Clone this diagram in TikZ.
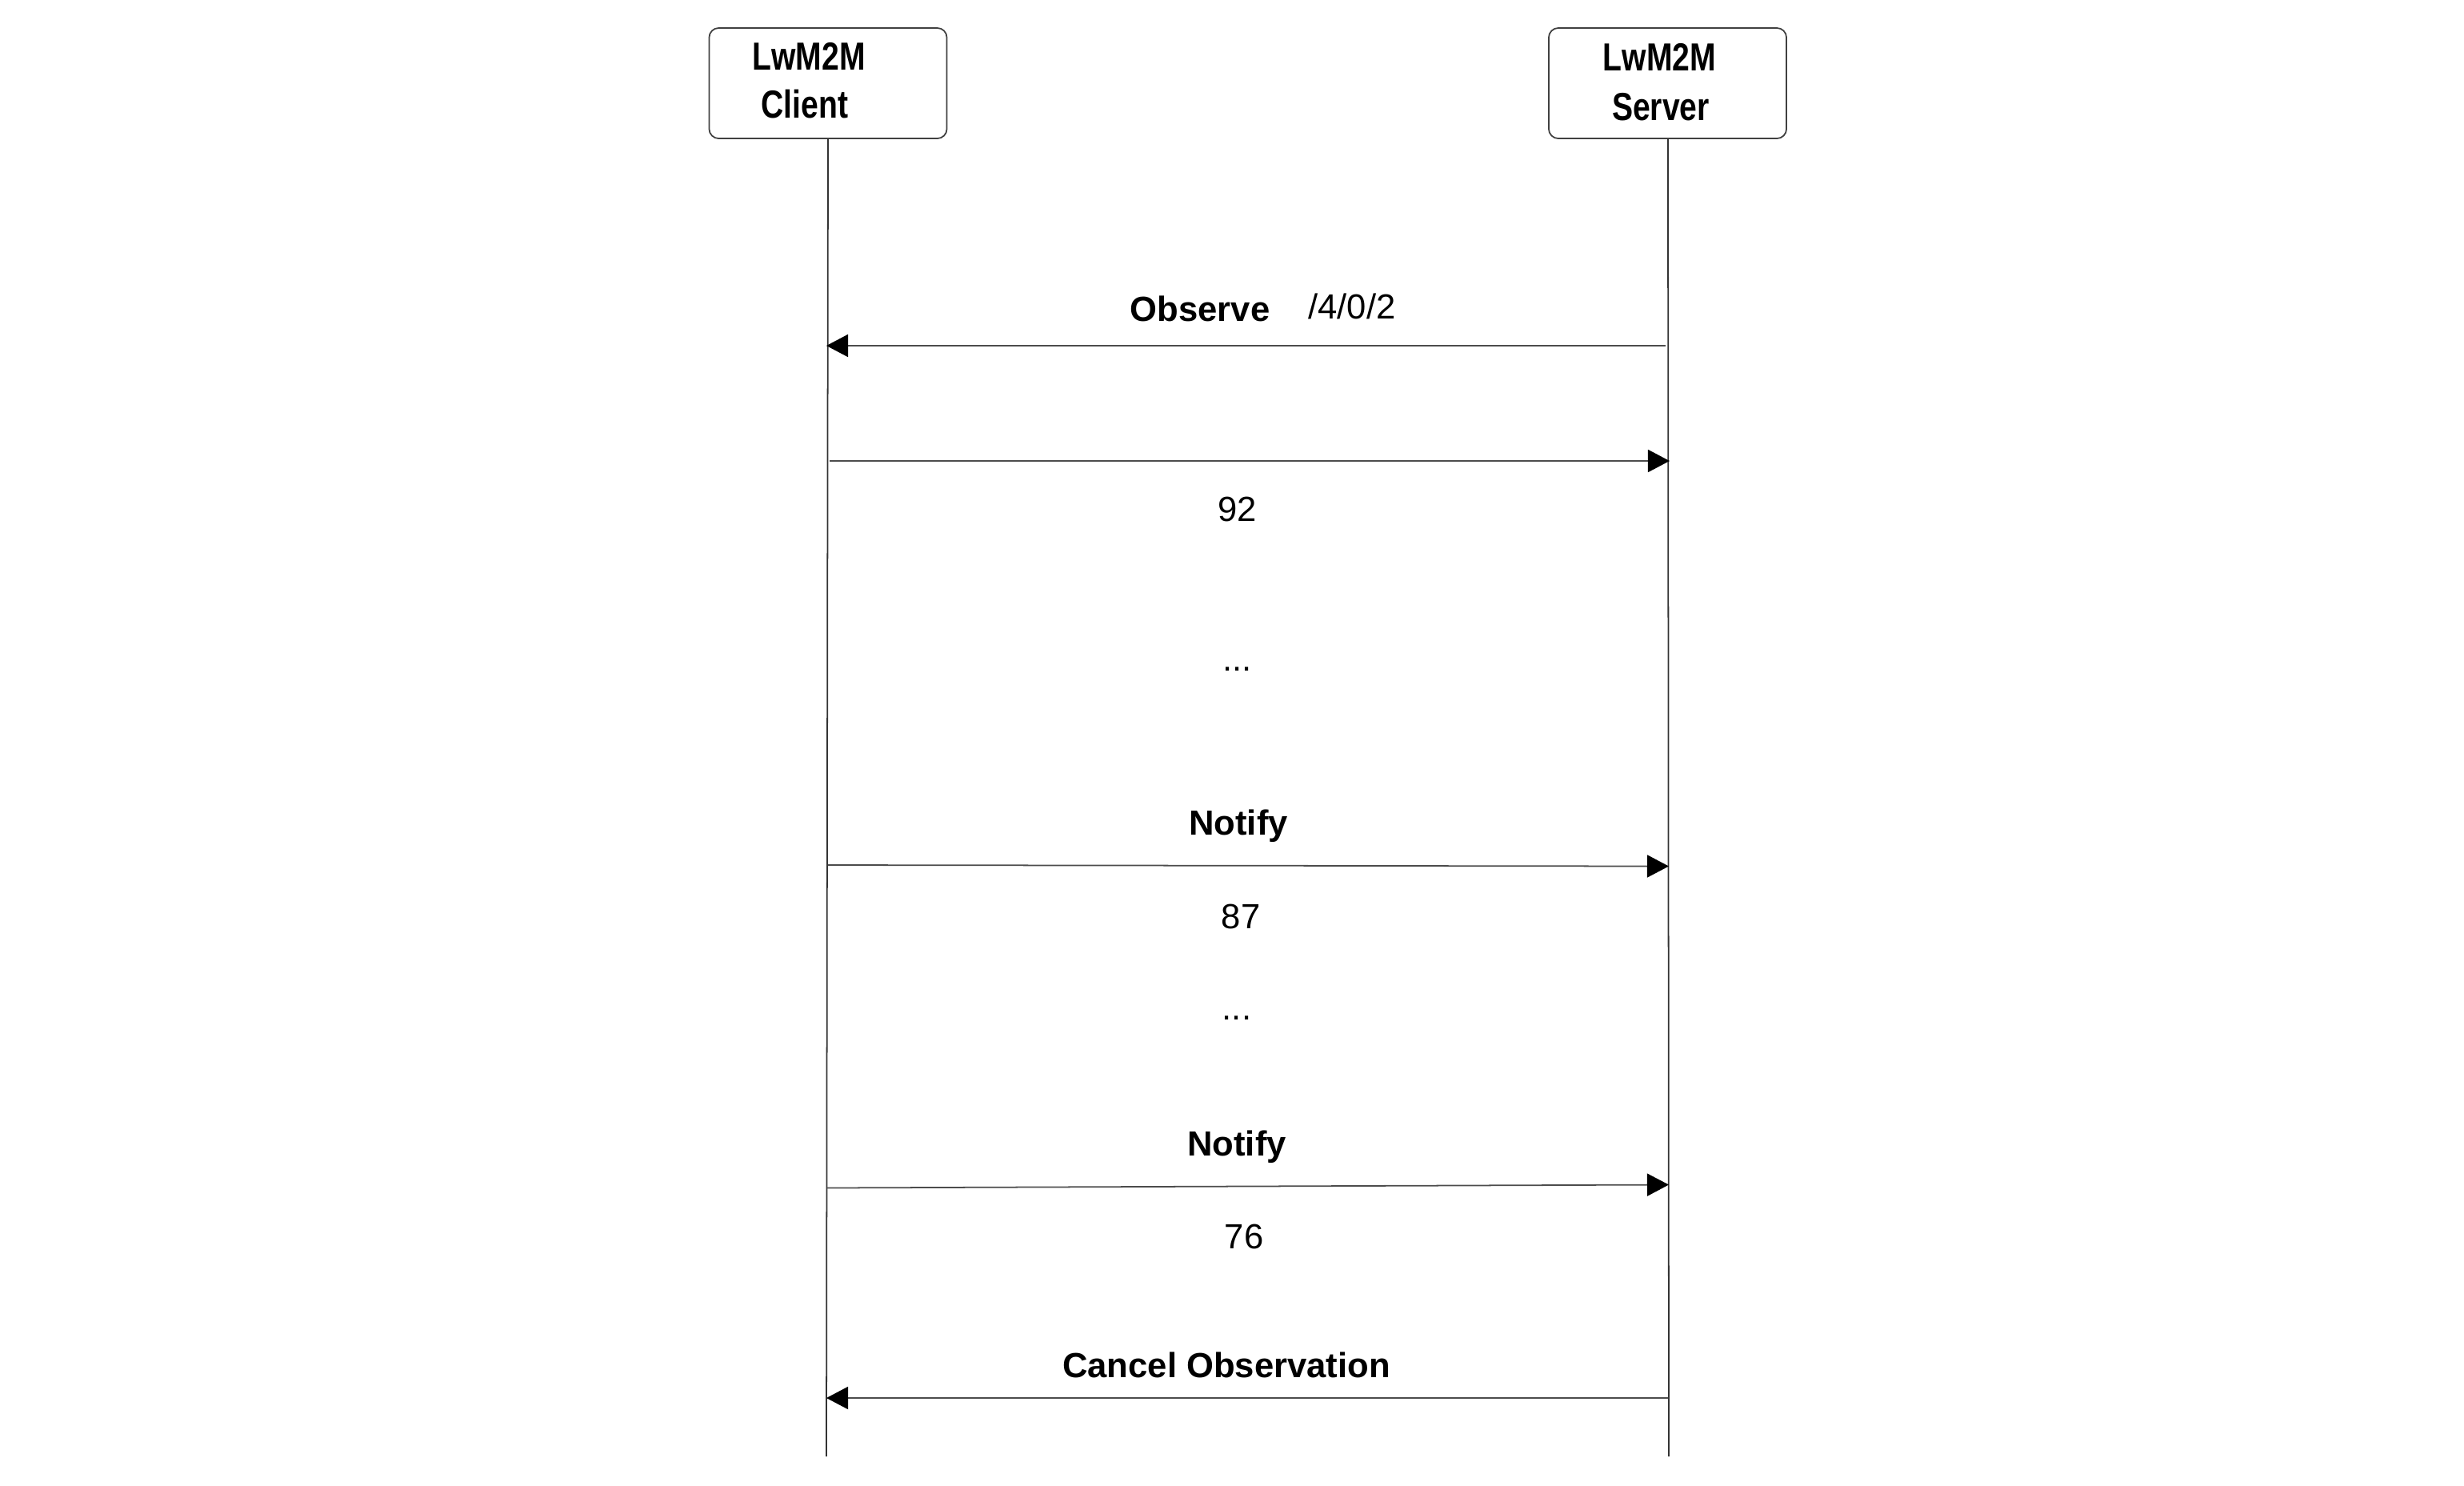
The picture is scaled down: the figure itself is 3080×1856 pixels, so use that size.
\documentclass[tikz,border=0pt]{standalone}
\usepackage{fontspec}
\setmainfont{Liberation Sans}
\usetikzlibrary{arrows.meta}
\begin{document}
\begin{tikzpicture}[x=0.01cm,y=-0.01cm,
  actor/.style={draw=black!75, line width=0.5pt, rounded corners=0.12cm, minimum width=2.97cm, minimum height=1.38cm, inner sep=0pt},
  actorlbl/.style={font=\fontsize{13.9}{16}\selectfont\bfseries, inner sep=0pt, anchor=base},
  life/.style={draw=black!80, line width=0.5pt},
  msg/.style={draw=black!70, line width=0.5pt, -{Triangle[length=0.27cm,width=0.28cm,color=black]}},
  lbl/.style={font=\fontsize{12.4}{15}\selectfont\bfseries, inner sep=0pt, anchor=base},
  val/.style={font=\fontsize{12.4}{15}\selectfont, inner sep=0pt, anchor=base}
]
\fill[white] (0,0) rectangle (3080,1856);
\useasboundingbox (0,0) rectangle (3080,1856);

% actors
\node[actor] (client) at (1035,104) {};
\node[actor] (server) at (2084.5,104) {};
\node[actorlbl] (cl1) at (1011,87) {\scalebox{0.8}[1]{LwM2M}};
\node[actorlbl] (cl2) at (1006,147) {\scalebox{0.8}[1]{Client}};
\node[actorlbl] (sl1) at (2074.5,88) {\scalebox{0.8}[1]{LwM2M}};
\node[actorlbl] (sl2) at (2076,150) {\scalebox{0.8}[1]{Server}};

% lifelines
\coordinate (cend) at (1033,1820);
\coordinate (send) at (2086,1820);
\draw[life] (client.south) -- (cend);
\draw[life] ([xshift=0.005cm]server.south) -- (send);

% message end points
\coordinate (s1) at (2082,432);  \coordinate (c1) at (1033,432);
\coordinate (c2) at (1037,576);  \coordinate (s2) at (2087,576);
\coordinate (c3) at (1035,1081); \coordinate (s3) at (2086,1082.5);
\coordinate (c4) at (1034,1484.5); \coordinate (s4) at (2086,1480.5);
\coordinate (s5) at (2085,1747); \coordinate (c5) at (1033,1747);

\draw[msg] (s1) -- (c1);
\draw[msg] (c2) -- (s2);
\draw[msg] (c3) -- (s3);
\draw[msg] (c4) -- (s4);
\draw[msg] (s5) -- (c5);

% labels
\node[lbl] (observe) at (1500,401) {Observe};
\node[val] (path) at (1690,398) {/4/0/2};
\node[val] (v92) at (1546.5,651.7) {92};
\node[val] (dots1) at (1546.5,838) {...};
\node[lbl] (notify1) at (1548,1043) {Notify};
\node[val] (v87) at (1551,1160) {87};
\node[val] (dots2) at (1546,1274) {...};
\node[lbl] (notify2) at (1546,1444) {Notify};
\node[val] (v76) at (1555,1560.6) {76};
\node[lbl] (cancel) at (1533,1721.7) {Cancel Observation};
\end{tikzpicture}
\end{document}
